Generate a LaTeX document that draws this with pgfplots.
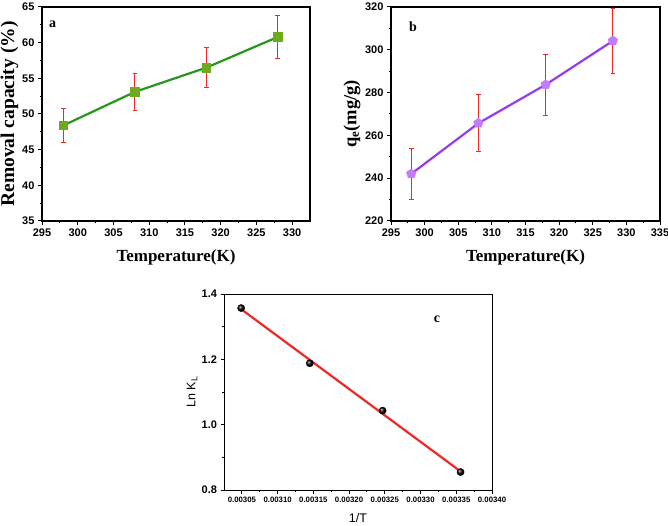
\documentclass[border=0pt]{standalone}
\usepackage{pgfplots}
\pgfplotsset{compat=1.18}
\usepackage{fontspec}
\setmainfont{Liberation Serif}
\setsansfont{Liberation Sans}
\definecolor{lgreen}{RGB}{40,150,30}
\definecolor{mgreen}{RGB}{110,170,30}
\definecolor{lpurp}{RGB}{150,60,240}
\definecolor{mpurp}{RGB}{195,125,250}
\definecolor{ered}{RGB}{240,40,40}
\begin{document}
\begin{tikzpicture}
\useasboundingbox (0pt,0pt) rectangle (668pt,525pt);
\pgfplotsset{
  common/.style={
    scale only axis,
    axis line style={line width=1.3pt},
    tick align=outside,
    xtick pos=bottom, ytick pos=left,
    major tick length=4pt, minor tick length=2.5pt,
    tick style={line width=1pt, black},
    minor tick num=1,
    /pgf/number format/assume math mode=true,
    clip=false,
  },
  ab/.style={
    common,
    tick label style={font=\sffamily\bfseries\fontsize{11}{11}\selectfont},
    label style={font=\bfseries\fontsize{17}{17}\selectfont},
    xlabel style={at={(axis description cs:0.5,-0.17)}, anchor=center},
  },
}
% panel a
\begin{axis}[ab,
  at={(42pt,304pt)}, anchor=south west, width=268pt, height=214pt,
  xmin=295, xmax=332.5, ymin=35, ymax=65,
  xtick={295,300,...,330}, ytick={35,40,...,65},
  xlabel={Temperature(K)}, ylabel={Removal capacity (\%)},
  ylabel style={at={(axis description cs:-0.121,0.5)}, anchor=center, font=\bfseries\fontsize{19.5}{19.5}\selectfont},
]
\addplot[lgreen, line width=2.2pt, mark=square*, mark size=4.3pt,
  mark options={fill=mgreen, draw=mgreen, line width=0.5pt},
  error bars/.cd, y dir=both, y explicit,
  error bar style={ered, line width=0.9pt},
  error mark options={rotate=90, ered, mark size=2.4pt, line width=0.9pt}]
coordinates {
 (298,48.4) +- (0,2.4)
 (308,53.1) +- (0,2.65)
 (318,56.5) +- (0,2.8)
 (328,60.8) +- (0,3.05)
};
\node[font=\bfseries\fontsize{14}{14}\selectfont] at (rel axis cs:0.04,0.92) {a};
\end{axis}
% panel b
\begin{axis}[ab,
  at={(391pt,304pt)}, anchor=south west, width=269pt, height=214pt,
  xmin=295, xmax=335, ymin=220, ymax=320,
  xtick={295,300,...,335}, ytick={220,240,...,320},
  xlabel={Temperature(K)}, ylabel={q\textsubscript{e}(mg/g)},
  ylabel style={at={(axis description cs:-0.145,0.5)}, anchor=center, font=\bfseries\fontsize{18.5}{18.5}\selectfont},
]
\addplot[lpurp, line width=2.2pt, mark=pentagon*, mark size=5pt,
  mark options={fill=mpurp, draw=mpurp, line width=0.5pt},
  error bars/.cd, y dir=both, y explicit,
  error bar style={ered, line width=0.9pt},
  error mark options={rotate=90, ered, mark size=2.4pt, line width=0.9pt}]
coordinates {
 (298,242.0) +- (0,12.0)
 (308,265.7) +- (0,13.3)
 (318,283.7) +- (0,14.2)
 (328,304.2) +- (0,15.2)
};
\node[font=\bfseries\fontsize{14}{14}\selectfont] at (rel axis cs:0.082,0.907) {b};
\end{axis}
% panel c
\begin{axis}[common,
  at={(224pt,35pt)}, anchor=south west, width=268pt, height=196pt,
  axis line style={line width=1pt},
  major tick length=3.5pt, minor tick length=2pt,
  xmin=0.003025, xmax=0.0034, ymin=0.8, ymax=1.4,
  xtick={0.00305,0.0031,0.00315,0.0032,0.00325,0.0033,0.00335,0.0034},
  ytick={0.8,1.0,1.2,1.4},
  scaled x ticks=false,
  xticklabel style={font=\sffamily\bfseries\fontsize{7.8}{7.8}\selectfont, /pgf/number format/.cd, fixed, fixed zerofill, precision=5},
  yticklabel style={font=\sffamily\bfseries\fontsize{11}{11}\selectfont, /pgf/number format/.cd, fixed, fixed zerofill, precision=1},
  label style={font=\sffamily\fontsize{12.5}{12.5}\selectfont},
  xlabel={1/T}, ylabel={Ln K\textsubscript{L}},
  xlabel style={at={(axis description cs:0.5,-0.143)}, anchor=center},
  ylabel style={at={(axis description cs:-0.119,0.5)}, anchor=center},
]
\addplot[only marks, mark=ball, mark size=3.6pt, ball color=black]
coordinates {(0.003049,1.357) (0.003145,1.188) (0.003247,1.043) (0.003356,0.855)};
\addplot[ered, line width=2.2pt] coordinates {(0.00305,1.352) (0.003356,0.857)};
\node[font=\bfseries\fontsize{14}{14}\selectfont] at (rel axis cs:0.795,0.872) {c};
\end{axis}
\end{tikzpicture}
\end{document}
